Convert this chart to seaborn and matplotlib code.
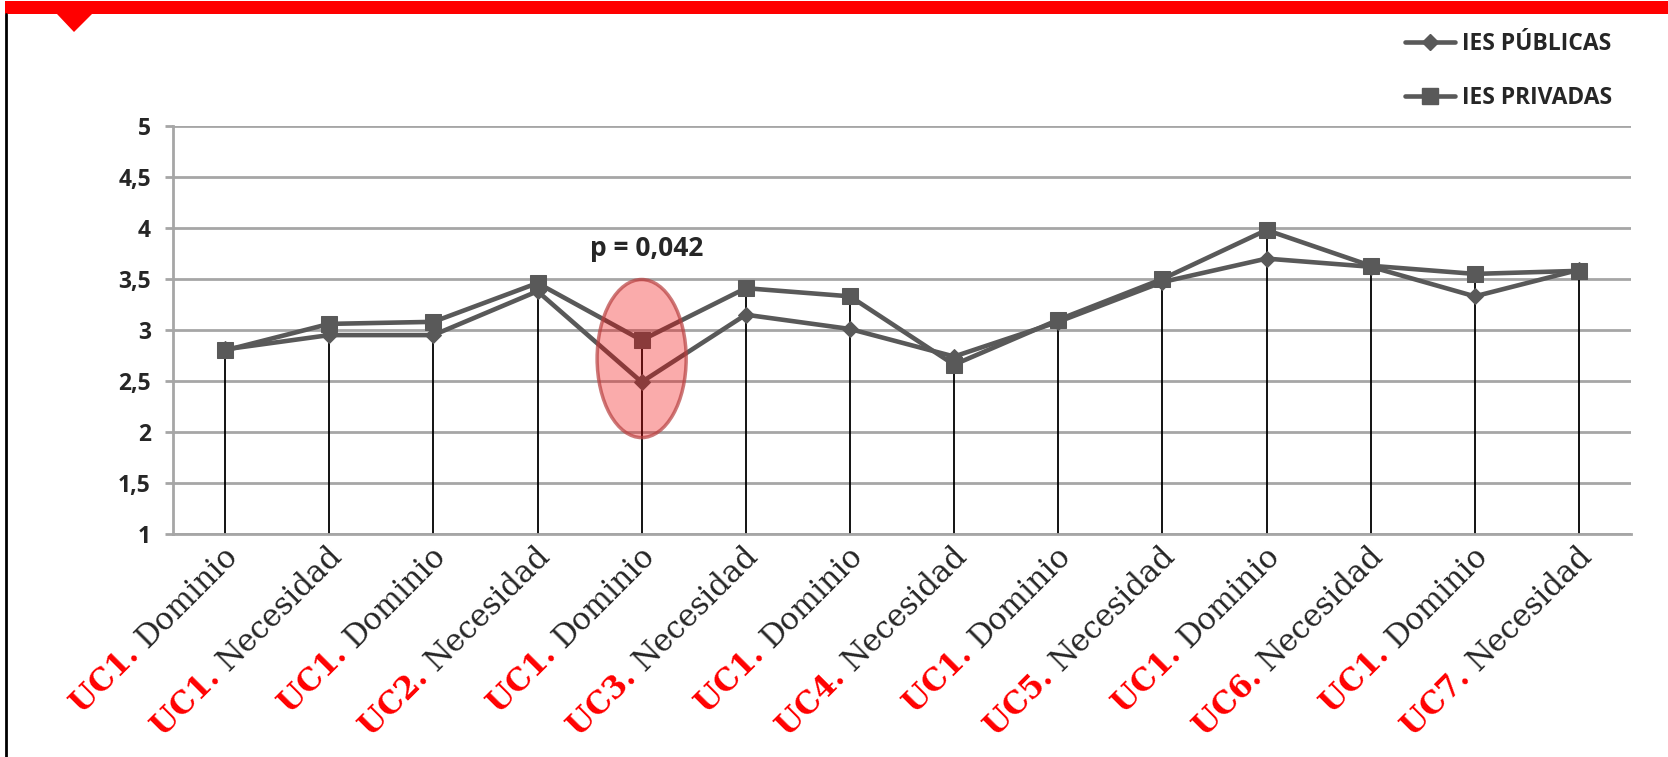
import numpy as np
import pandas as pd
import seaborn as sns
import matplotlib.pyplot as plt
import matplotlib.transforms as mtransforms
from matplotlib.patches import Ellipse, Polygon, Rectangle
from matplotlib.lines import Line2D

# data
uc_codes = ["UC1.", "UC1.", "UC1.", "UC2.", "UC1.", "UC3.", "UC1.",
            "UC4.", "UC1.", "UC5.", "UC1.", "UC6.", "UC1.", "UC7."]
aspectos = ["Dominio", "Necesidad"] * 7
publicas = [2.81, 2.95, 2.95, 3.38, 2.49, 3.15, 3.01, 2.74, 3.08, 3.47, 3.70, 3.62, 3.33, 3.59]
privadas = [2.80, 3.06, 3.08, 3.46, 2.90, 3.41, 3.33, 2.66, 3.10, 3.50, 3.98, 3.63, 3.55, 3.58]
series_names = ["IES PÚBLICAS", "IES PRIVADAS"]
yticks = [1, 1.5, 2, 2.5, 3, 3.5, 4, 4.5, 5]

sns.set_style("white")
plt.rcParams['font.family'] = ['Open Sans', 'DejaVu Sans']

W, H = 1668, 757
fig = plt.figure(figsize=(W / 100, H / 100), dpi=100)
ax = fig.add_axes([173 / W, 1 - 534 / H, (1631 - 173) / W, (534 - 126) / H])

gray = "#595959"
x = np.arange(len(publicas))
df = pd.DataFrame({"pos": np.concatenate([x, x]),
                   "valor": publicas + privadas,
                   "serie": [series_names[0]] * len(x) + [series_names[1]] * len(x)})

# drop lines
ax.vlines(x, 1, np.maximum(publicas, privadas), color="black", lw=1.3, zorder=2)

sns.lineplot(data=df[df.serie == series_names[0]], x="pos", y="valor", ax=ax,
             color=gray, lw=3.3, marker="D", markersize=8.5, markeredgecolor=gray,
             zorder=3, legend=False)
sns.lineplot(data=df[df.serie == series_names[1]], x="pos", y="valor", ax=ax,
             color=gray, lw=3.3, marker="s", markersize=11, markeredgecolor=gray,
             zorder=3, legend=False)

ax.set_xlim(-0.5, len(x) - 0.5)
ax.set_ylim(1, 5)
ax.set_yticks(yticks)
ax.set_yticklabels([f"{v:g}".replace(".", ",") for v in yticks],
                   fontweight="bold", fontsize=16.5)
ax.set_xticks(x)
ax.set_xticklabels([])
ax.set_xlabel("")
ax.set_ylabel("")
ax.yaxis.grid(True, color="#a6a6a6", lw=2)
ax.xaxis.grid(False)
for s in ["top", "right"]:
    ax.spines[s].set_visible(False)
for s in ["left", "bottom"]:
    ax.spines[s].set_color("#a6a6a6")
    ax.spines[s].set_linewidth(2)
ax.tick_params(axis="y", length=6, width=2, color="#a6a6a6", pad=10, left=True)
ax.tick_params(axis="x", length=0)

# highlighted point
ax.add_patch(Ellipse((4, 2.72), 0.855, 1.55, facecolor=(0.94, 0, 0, 0.33),
                     edgecolor=(0.72, 0.25, 0.25, 0.7), lw=2.5, zorder=4))
ax.text(4.05, 3.80, "p = 0,042", ha="center", va="center",
        fontweight="bold", fontsize=19)

# legend
handles = [Line2D([], [], color=gray, lw=3.3, marker="D", markersize=8.5),
           Line2D([], [], color=gray, lw=3.3, marker="s", markersize=11)]
fig.legend(handles, series_names, loc="upper left",
           bbox_to_anchor=(1405 / W, 1 - 32 / H), frameon=False,
           prop={"weight": "bold", "size": 16.5}, handlelength=2.2,
           handletextpad=0.3, labelspacing=1.3, borderpad=0, borderaxespad=0)

# two colour tick labels
fig.canvas.draw()
renderer = fig.canvas.get_renderer()
lab_size = 22
base = ax.get_xaxis_transform()
c45 = np.cos(np.pi / 4)
for i in x:
    t0 = ax.text(i, 0, aspectos[i] + " ", family="DejaVu Serif", fontsize=lab_size)
    w = t0.get_window_extent(renderer).width
    t0.remove()
    tr_black = mtransforms.offset_copy(base, fig=fig, x=14, y=-23, units="dots")
    ax.text(i, 0, aspectos[i], transform=tr_black, family="DejaVu Serif",
            fontsize=lab_size, rotation=45, rotation_mode="anchor",
            ha="right", va="baseline", clip_on=False)
    tr_red = mtransforms.offset_copy(base, fig=fig, x=14 - w * c45,
                                     y=-23 - w * c45, units="dots")
    ax.text(i, 0, uc_codes[i], transform=tr_red, family="DejaVu Serif",
            fontsize=lab_size, fontweight="bold", color="red", rotation=45,
            rotation_mode="anchor", ha="right", va="baseline", clip_on=False)

# slide decoration: red bar with notch and left border
fig.patches.append(Rectangle((5 / W, 1 - 14 / H), 1 - 5 / W, 13 / H,
                             transform=fig.transFigure, color="red", lw=0))
fig.patches.append(Polygon([(57 / W, 1 - 14 / H), (92 / W, 1 - 14 / H),
                            (74 / W, 1 - 32 / H)], closed=True,
                           transform=fig.transFigure, color="red", lw=0))
fig.lines.append(Line2D([6 / W, 6 / W], [0, 1 - 14 / H], transform=fig.transFigure,
                        color="black", lw=2))

fig.savefig("out.png", dpi=100)
